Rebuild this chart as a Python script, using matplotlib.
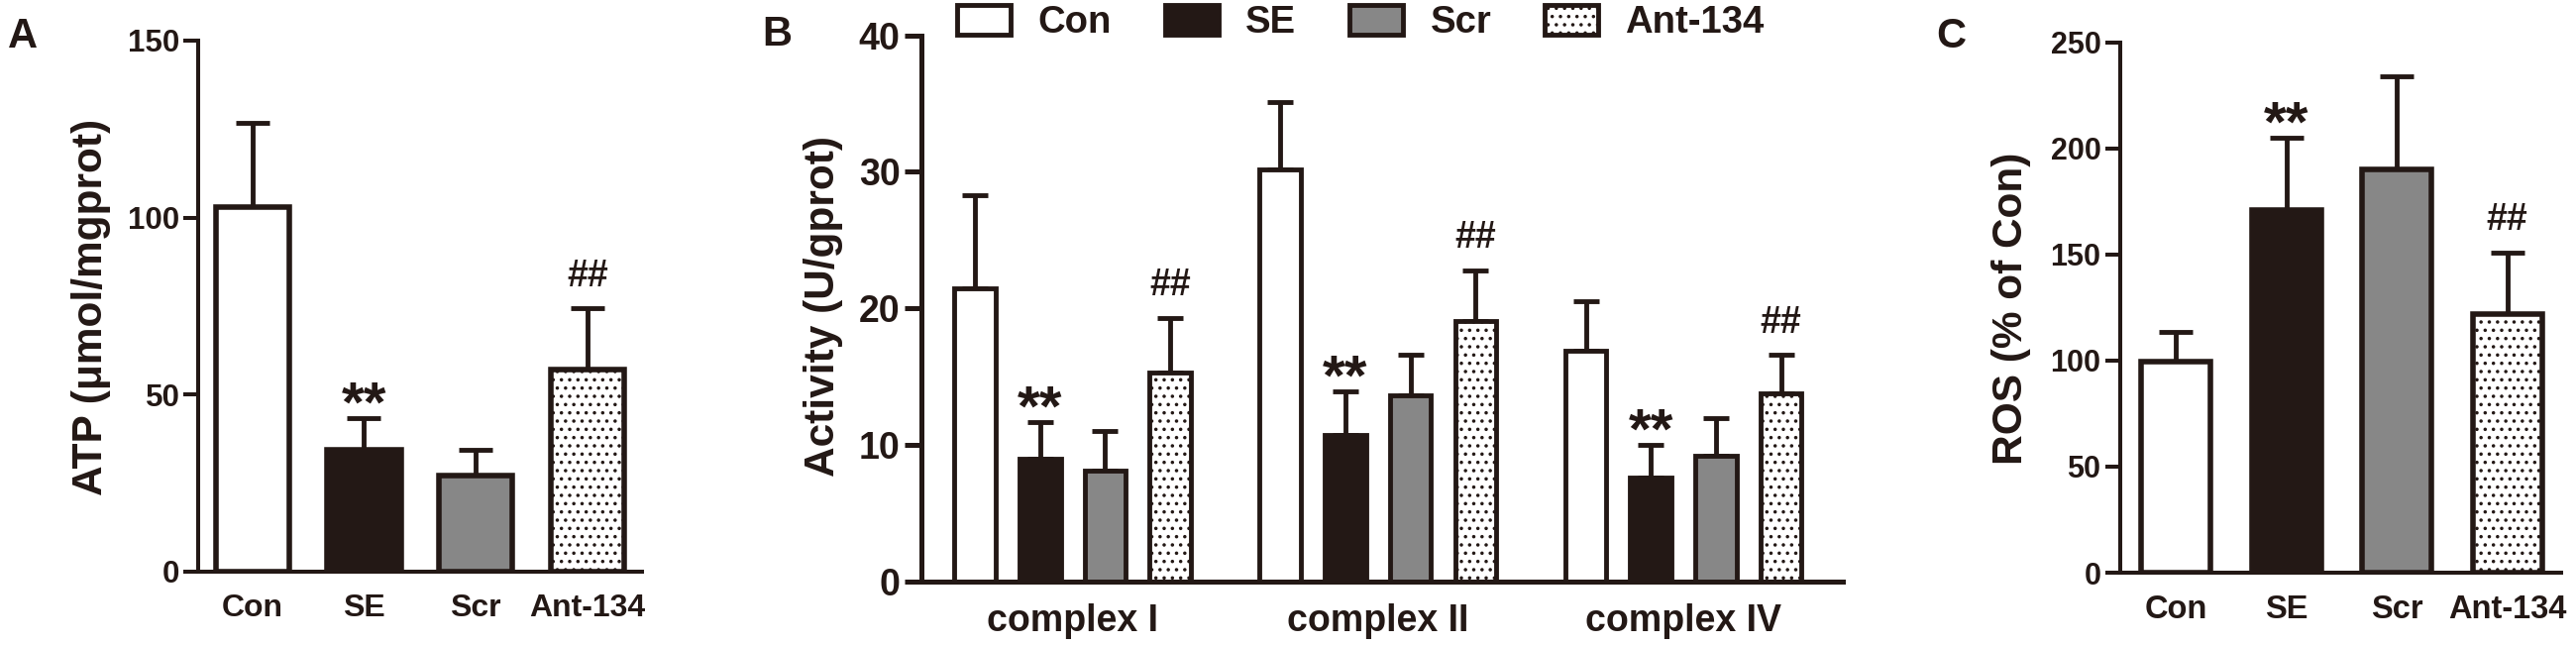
import matplotlib
matplotlib.use('Agg')
import matplotlib.pyplot as plt
import numpy as np

plt.rcParams['font.family'] = ['Liberation Sans', 'DejaVu Sans']
plt.rcParams['hatch.linewidth'] = 1.3

# ---------------- data ----------------
groups = ['Con', 'SE', 'Scr', 'Ant-134']

atp_mean = [102.9, 34.5, 27.1, 57.2]
atp_err = [23.8, 8.8, 7.2, 17.2]

complexes = ['complex I', 'complex II', 'complex IV']
act_con = [21.5, 30.15, 16.9]
act_con_err = [6.8, 4.95, 3.6]
act_se = [9.0, 10.75, 7.6]
act_se_err = [2.7, 3.15, 2.4]
act_scr = [8.1, 13.6, 9.2]
act_scr_err = [2.9, 3.0, 2.8]
act_ant = [15.3, 19.1, 13.8]
act_ant_err = [4.0, 3.7, 2.8]

ros_mean = [99.6, 170.8, 189.8, 121.9]
ros_err = [13.9, 34.0, 44.3, 29.1]

marks = ['', '**', '', '##']

# ---------------- styles ----------------
INK = '#231815'
fills = ['white', INK, '#878787', 'white']
hatches = [None, None, None, '..']

W, H = 2600, 651
fig = plt.figure(figsize=(W / 100, H / 100), dpi=100)


def fx(px):
    return px / W


def fy(py):
    return (H - py) / H


def add_ax(left, right, top, bottom):
    return fig.add_axes([fx(left), fy(bottom), fx(right) - fx(left), fy(top) - fy(bottom)])


def style(ax, spine_lw, ytick_fs, ytick_len, ytick_pad, xtick_fs, xtick_pad):
    for s in ['top', 'right']:
        ax.spines[s].set_visible(False)
    for s in ['left', 'bottom']:
        ax.spines[s].set_linewidth(spine_lw)
        ax.spines[s].set_color(INK)
        ax.spines[s].set_capstyle('projecting')
    ax.tick_params(axis='y', direction='out', length=ytick_len, width=spine_lw,
                   color=INK, pad=ytick_pad, labelsize=ytick_fs, labelcolor=INK)
    ax.tick_params(axis='x', length=0, pad=xtick_pad, labelsize=xtick_fs, labelcolor=INK)
    for lab in ax.get_yticklabels() + ax.get_xticklabels():
        lab.set_fontweight('bold')


def annotate_marks(ax, xs, tops, ast_fs=42, hash_fs=27):
    for x, t, m in zip(xs, tops, marks):
        if m == '**':
            ax.annotate(m, xy=(x, t), xytext=(0, 21.6 - 0.575 * ast_fs),
                        textcoords='offset points', ha='center', va='baseline',
                        fontsize=ast_fs, fontweight='bold', color=INK,
                        annotation_clip=False)
        elif m == '##':
            ax.annotate(m, xy=(x, t), xytext=(0, 25.9 - 0.36 * hash_fs),
                        textcoords='offset points', ha='center', va='baseline',
                        fontsize=hash_fs, fontweight='bold', color=INK,
                        annotation_clip=False)


def simple_panel(ax, means, errs, width, bar_lw, capsize):
    x = np.arange(len(groups))
    for i in range(len(groups)):
        ax.bar(x[i], means[i], width=width, color=fills[i], edgecolor=INK,
               linewidth=bar_lw, hatch=hatches[i], zorder=2)
    ax.errorbar(x, means, yerr=[np.zeros(len(means)), errs], fmt='none',
                ecolor=INK, elinewidth=3.5, capsize=capsize, capthick=3.5, zorder=1)
    tops = np.array(means) + np.array(errs)
    annotate_marks(ax, x, tops)
    ax.set_xticks(x)
    ax.set_xticklabels(groups)


# ---------------- Panel A ----------------
axA = add_ax(199.5, 648, 41, 577)
simple_panel(axA, atp_mean, atp_err, 0.66, 4.0, 12.5)
axA.set_xlim(-0.49, 3.49)
axA.set_ylim(0, 150)
axA.set_yticks([0, 50, 100, 150])
style(axA, 2.9, 22.5, 11, 2, 23, 15.5)
axA.set_ylabel('ATP (μmol/mgprot)', fontsize=30.5, fontweight='bold', color=INK, va='center')
axA.yaxis.set_label_coords(fx(92), fy(310), transform=fig.transFigure)

# ---------------- Panel B ----------------
axB = add_ax(930, 1860, 35.5, 587)
series = [act_con, act_se, act_scr, act_ant]
series_err = [act_con_err, act_se_err, act_scr_err, act_ant_err]
gx = np.arange(len(complexes))
step = 0.2131
bw = 0.135
handles = []
for i in range(4):
    xs = gx + (i - 1.5) * step
    b = axB.bar(xs, series[i], width=bw, color=fills[i], edgecolor=INK,
                linewidth=3.5, hatch=hatches[i], zorder=2, label=groups[i])
    handles.append(b)
    axB.errorbar(xs, series[i], yerr=[np.zeros(len(gx)), series_err[i]], fmt='none',
                 ecolor=INK, elinewidth=3.5, capsize=9.5, capthick=3.5, zorder=1)
for j in range(len(complexes)):
    xs = j + (np.arange(4) - 1.5) * step
    tops = [series[i][j] + series_err[i][j] for i in range(4)]
    annotate_marks(axB, xs, tops)
axB.set_xticks(gx)
axB.set_xticklabels(complexes)
axB.set_xlim(-0.495, 2.522)
axB.set_ylim(0, 40)
axB.set_yticks([0, 10, 20, 30, 40])
style(axB, 3.6, 27, 12, 3.5, 27, 15.5)
axB.set_ylabel('Activity (U/gprot)', fontsize=30.5, fontweight='bold', color=INK, va='center')
axB.yaxis.set_label_coords(fx(831), fy(309), transform=fig.transFigure)

fig.legend(handles, groups, loc='center left', bbox_to_anchor=(fx(966), fy(23)),
           ncol=4, frameon=False, prop={'size': 27.5, 'weight': 'bold'},
           handlelength=1.42, handleheight=0.82, handletextpad=0.72,
           columnspacing=1.4, borderpad=0, borderaxespad=0, labelcolor=INK)

# ---------------- Panel C ----------------
axC = add_ax(2140, 2585, 42.5, 578)
simple_panel(axC, ros_mean, ros_err, 0.63, 4.0, 12.5)
axC.set_xlim(-0.506, 3.487)
axC.set_ylim(0, 250)
axC.set_yticks([0, 50, 100, 150, 200, 250])
style(axC, 2.9, 22, 10.5, 3.5, 23.5, 15.5)
axC.set_ylabel('ROS (% of Con)', fontsize=30.5, fontweight='bold', color=INK, va='center')
axC.yaxis.set_label_coords(fx(2030), fy(311), transform=fig.transFigure)

# ---------------- panel letters ----------------
fig.text(fx(8), fy(48), 'A', fontsize=30, fontweight='bold', color=INK, va='baseline')
fig.text(fx(769), fy(46), 'B', fontsize=30, fontweight='bold', color=INK, va='baseline')
fig.text(fx(1954), fy(48), 'C', fontsize=30, fontweight='bold', color=INK, va='baseline')

fig.savefig('out.png', dpi=100, facecolor='white')
